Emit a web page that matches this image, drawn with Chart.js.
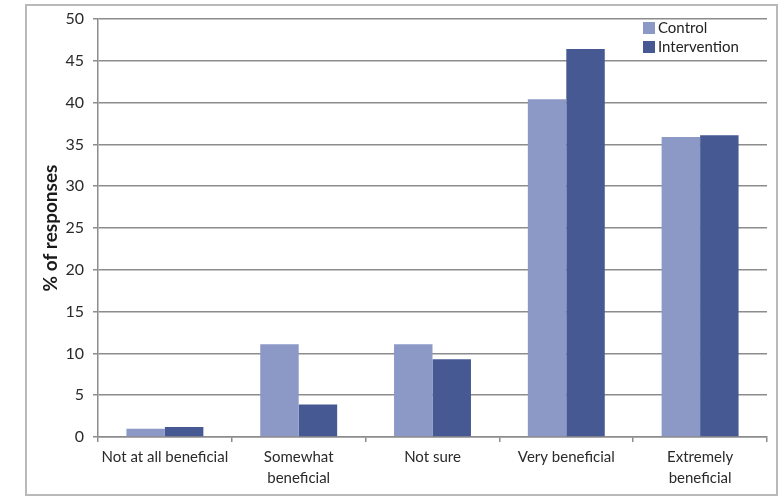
<!DOCTYPE html>
<html>
<head>
<meta charset="utf-8">
<script src="https://cdn.jsdelivr.net/npm/chart.js@4"></script>
<style>
  html, body { margin: 0; padding: 0; background: #fff; }
  #wrap { width: 782px; height: 498px; position: relative; }
</style>
</head>
<body>
<div id="wrap"><canvas id="c" width="782" height="498"></canvas></div>
<script>
// Survey responses by group (% of responses)
const categories = [
  ["Not at all beneficial"],
  ["Somewhat", "beneficial"],
  ["Not sure"],
  ["Very beneficial"],
  ["Extremely", "beneficial"]
];
const controlValues = [1.0, 11.1, 11.1, 40.4, 35.9];
const interventionValues = [1.2, 3.9, 9.3, 46.4, 36.1];
const yTicks = [0, 5, 10, 15, 20, 25, 30, 35, 40, 45, 50];

const GRID = '#8c8c8c';
const FONT = 'Lato, "Liberation Sans", sans-serif';

// Outer frame around the whole figure
const framePlugin = {
  id: 'frame',
  beforeDraw(chart) {
    const ctx = chart.ctx;
    ctx.save();
    ctx.fillStyle = '#fff';
    ctx.fillRect(0, 0, chart.width, chart.height);
    ctx.strokeStyle = '#b9b9b9';
    ctx.lineWidth = 2;
    ctx.strokeRect(26, 5, 751, 490);
    ctx.restore();
  }
};

// Vertical legend placed in the upper right of the plot area
const innerLegend = {
  id: 'innerLegend',
  afterDraw(chart) {
    const ctx = chart.ctx;
    const area = chart.chartArea;
    ctx.save();
    ctx.font = '15px ' + FONT;
    ctx.textBaseline = 'middle';
    ctx.textAlign = 'left';
    chart.data.datasets.forEach((ds, i) => {
      const y = area.top + 9 + i * 19;
      const x = area.right - 124;
      ctx.fillStyle = ds.backgroundColor;
      ctx.fillRect(x, y - 6, 12, 12);
      ctx.fillStyle = '#222';
      ctx.fillText(ds.label, x + 15, y);
    });
    ctx.restore();
  }
};

new Chart(document.getElementById('c'), {
  type: 'bar',
  data: {
    labels: categories,
    datasets: [
      { label: 'Control', data: controlValues, backgroundColor: '#8c99c7' },
      { label: 'Intervention', data: interventionValues, backgroundColor: '#475992' }
    ]
  },
  options: {
    responsive: false,
    animation: false,
    devicePixelRatio: 1,
    layout: { padding: { left: 0, right: 15, top: 19, bottom: 0 } },
    datasets: { bar: { categoryPercentage: 0.575, barPercentage: 1.0 } },
    plugins: {
      legend: { display: false },
      tooltip: { enabled: false }
    },
    scales: {
      x: {
        grid: {
          offset: true,
          drawOnChartArea: false,
          drawTicks: true,
          tickLength: 5,
          color: GRID,
          lineWidth: 1.5
        },
        border: { display: true, color: GRID, width: 1.5 },
        ticks: {
          color: '#2a2a2a',
          font: { family: FONT, size: 15, lineHeight: 1.4 },
          padding: 5,
          maxRotation: 0,
          autoSkip: false
        },
        afterFit(scale) { scale.height = 61; }
      },
      y: {
        min: 0,
        max: 50,
        afterBuildTicks(scale) { scale.ticks = yTicks.map(v => ({ value: v })); },
        grid: {
          color: GRID,
          lineWidth: 1.5,
          tickLength: 5,
          drawTicks: true
        },
        border: { display: true, color: GRID, width: 1.5 },
        ticks: {
          color: '#2a2a2a',
          font: { family: FONT, size: 16 },
          padding: 9
        },
        title: {
          display: true,
          text: '% of responses',
          color: '#1a1a1a',
          font: { family: FONT, size: 19, weight: 'bold' },
          padding: { top: 39, bottom: 0 }
        },
        afterFit(scale) { scale.width = 98; }
      }
    }
  },
  plugins: [framePlugin, innerLegend]
});
</script>
</body>
</html>
